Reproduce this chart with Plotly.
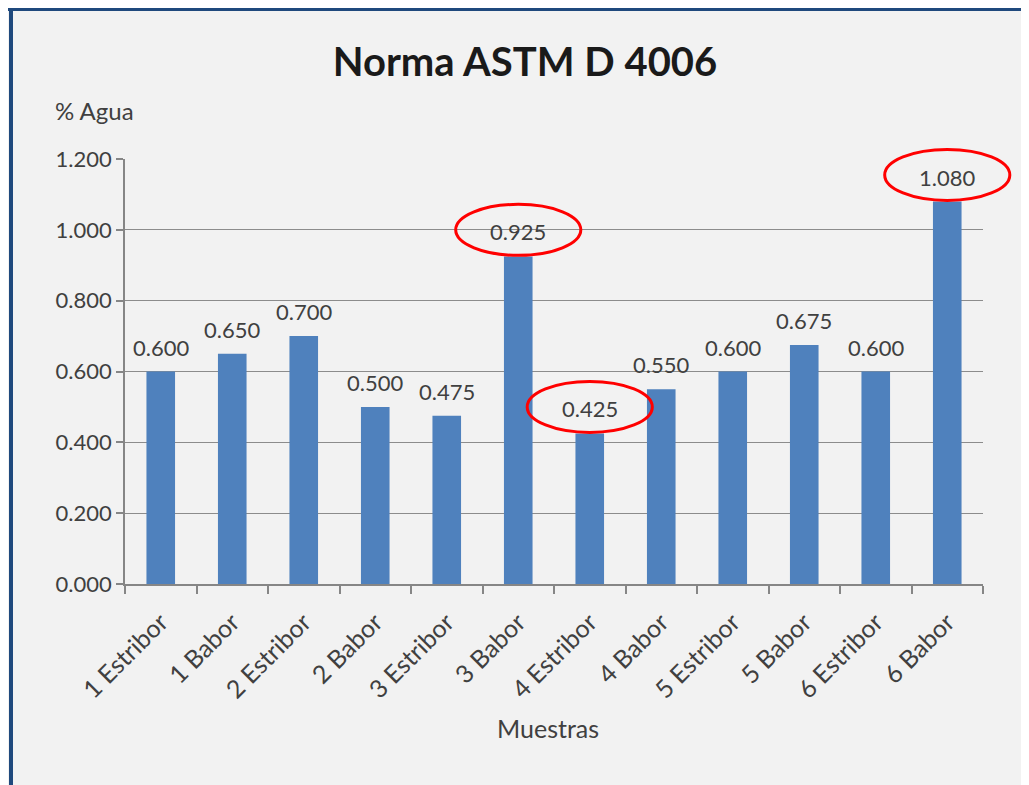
import plotly.graph_objects as go

categories = ["1 Estribor", "1 Babor", "2 Estribor", "2 Babor", "3 Estribor", "3 Babor",
              "4 Estribor", "4 Babor", "5 Estribor", "5 Babor", "6 Estribor", "6 Babor"]
agua = [0.600, 0.650, 0.700, 0.500, 0.475, 0.925, 0.425, 0.550, 0.600, 0.675, 0.600, 1.080]
highlighted = ["3 Babor", "4 Estribor", "6 Babor"]
y_ticks = [0.0, 0.2, 0.4, 0.6, 0.8, 1.0, 1.2]

FONT = "Lato"
TXT = "#404040"
YMAX = 1.2
N = len(categories)

# page has an 8px body margin: work in screen px and subtract it
OFF = 8
W, H = 1029 - OFF, 785 - OFF
L, R, T, B = 125 - OFF, 983 - OFF, 159 - OFF, 584 - OFF


def px(x):
    return (x - OFF - L) / (R - L)


def py(y):
    return (B - (y - OFF)) / (B - T)


fig = go.Figure()
fig.add_trace(go.Bar(
    x=categories, y=agua,
    marker=dict(color="#4F81BD", line=dict(width=0)),
    width=0.4,
    hoverinfo="x+y",
))

annotations = []
for c, v in zip(categories, agua):
    annotations.append(dict(text=f"{v:.3f}", x=c, y=v, xref="x", yref="y",
                            xanchor="center", yanchor="bottom", yshift=9,
                            showarrow=False,
                            font=dict(family=FONT, size=22, color=TXT)))

shapes = []
# dark blue frame edges (top and left)
shapes.append(dict(type="line", xref="paper", yref="paper", x0=px(8), x1=px(1040),
                   y0=py(9), y1=py(9), line=dict(color="#1F497D", width=4), layer="below"))
shapes.append(dict(type="line", xref="paper", yref="paper", x0=px(11), x1=px(11),
                   y0=py(790), y1=py(7), line=dict(color="#1F497D", width=4), layer="below"))

# red ellipses around highlighted labels (domain refs so they are not clipped)
for c in highlighted:
    i = categories.index(c)
    v = agua[i]
    cx = (i + 0.5) / N
    cy = v + 0.075
    shapes.append(dict(type="circle", xref="x domain", yref="y domain",
                       x0=cx - 0.875 / N, x1=cx + 0.875 / N,
                       y0=(cy - 0.072) / YMAX, y1=(cy + 0.072) / YMAX,
                       line=dict(color="#FF0000", width=3), fillcolor="rgba(0,0,0,0)"))

annotations += [
    dict(text="% Agua", xref="paper", yref="paper", x=px(53), y=py(110),
         xanchor="left", yanchor="middle", showarrow=False,
         font=dict(family=FONT, size=24, color=TXT)),
    dict(text="Muestras", xref="paper", yref="paper", x=px(548), y=py(728),
         xanchor="center", yanchor="middle", showarrow=False,
         font=dict(family=FONT, size=25, color=TXT)),
]

fig.update_layout(
    width=W, height=H,
    margin=dict(l=L, r=W - R, t=T, b=H - B, autoexpand=False),
    paper_bgcolor="#F2F2F2",
    plot_bgcolor="#F2F2F2",
    showlegend=False,
    bargap=0.6,
    font=dict(family=FONT, color=TXT),
    title=dict(text="<b>Norma ASTM D 4006</b>", x=(525 - OFF) / W, y=1 - (62 - OFF) / H,
               xanchor="center", yanchor="middle",
               font=dict(family=FONT, size=40, color="#1a1a1a")),
    shapes=shapes,
    annotations=annotations,
)
fig.update_xaxes(
    type="category",
    range=[-0.5, N - 0.5],
    showline=True, linecolor="#868686", linewidth=1.5,
    ticks="outside", tickson="boundaries", ticklen=8, tickcolor="#868686", tickwidth=1.5,
    tickangle=-45,
    ticklabelstandoff=12,
    tickfont=dict(family=FONT, size=25, color=TXT),
    showgrid=False,
)
fig.update_yaxes(
    range=[0, YMAX], tickvals=y_ticks, tickformat=".3f",
    showline=True, linecolor="#868686", linewidth=1.5,
    ticks="outside", ticklen=7, tickcolor="#868686", tickwidth=1.5,
    showgrid=True, gridcolor="#8C8C8C", gridwidth=1.2,
    tickfont=dict(family=FONT, size=22, color=TXT),
    zeroline=False,
)

fig.write_html("out.html")
